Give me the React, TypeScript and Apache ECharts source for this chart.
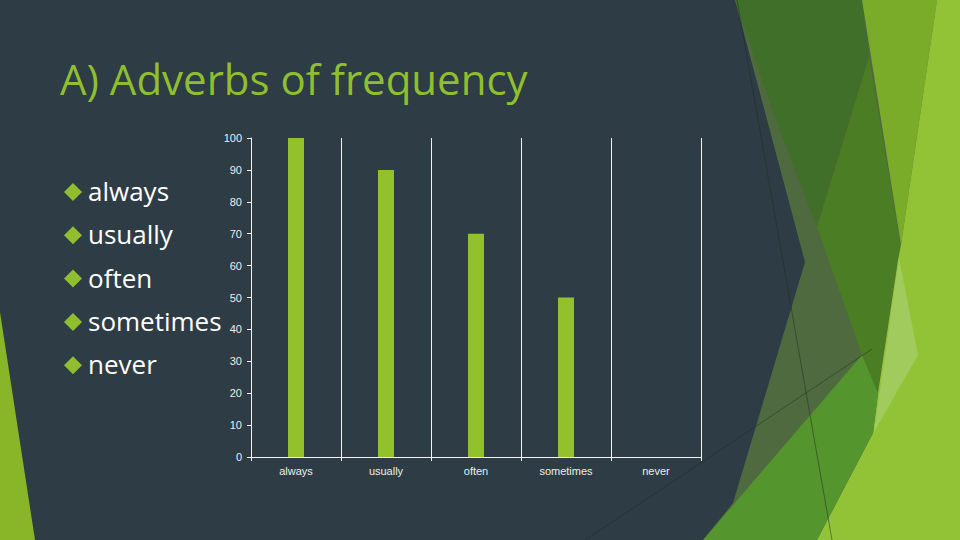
import React, { useEffect, useRef } from "react";
import * as echarts from "echarts";

const titleText = "A) Adverbs of frequency";
const categories = ["always", "usually", "often", "sometimes", "never"];
const values = [100, 90, 70, 50, 0];
const yMin = 0;
const yMax = 100;
const yInterval = 10;

const BG = "#2d3c45";
const BAR = "#93c12b";
const AXIS = "#f2f2f2";
const AXIS_FONT = "'Liberation Sans', Arial, sans-serif";
const TEXT_FONT = "'Open Sans', 'DejaVu Sans', sans-serif";

function poly(points: number[][], fill: string, z = -5) {
  return { type: "polygon", z, silent: true, shape: { points }, style: { fill } };
}

function buildOption() {
  const deco: any[] = [
    // left strip
    poly([[0, 312], [35, 540], [0, 540]], "#88b628"),
    // right decoration base (grey-olive)
    poly([[735, 0], [805, 262], [733, 503], [703, 540], [960, 540], [960, 0]], "#4f6a3e"),
    // dark green
    poly([[735, 0], [862, 0], [869, 57], [817, 227], [777, 123]], "#3f6f28"),
    // mid green
    poly([[869, 57], [901, 248], [898, 260], [878, 393], [862, 355], [817, 227]], "#4a7d24"),
    // olive
    poly([[862, 0], [937, 0], [901, 245]], "#7aab29"),
    // lime
    poly([[937, 0], [960, 0], [960, 540], [817, 540], [873, 433], [878, 393], [898, 260], [901, 245]], "#92c336"),
    // light sliver
    poly([[899, 258], [918, 355], [874, 432]], "#a2cb5e"),
    // medium green bottom
    poly([[862, 355], [878, 393], [873, 433], [817, 540], [703, 540]], "#54952d"),
    // thin lines
    { type: "line", z: -4, silent: true, shape: { x1: 737, y1: 0, x2: 832, y2: 540 }, style: { stroke: "#1f2d26", lineWidth: 1, opacity: 0.5 } },
    { type: "line", z: -4, silent: true, shape: { x1: 585, y1: 540, x2: 872, y2: 349 }, style: { stroke: "#1f2d26", lineWidth: 1, opacity: 0.5 } },
  ];

  const title = {
    type: "text",
    z: 5,
    style: {
      x: 60,
      y: 78,
      text: titleText,
      fill: "#8fbf2e",
      font: `42px ${TEXT_FONT}`,
      textAlign: "left",
      textVerticalAlign: "middle",
    },
  };

  const bullets: any[] = [];
  categories.forEach((c, i) => {
    const cy = 192 + i * 43.3;
    bullets.push({
      type: "polygon",
      z: 5,
      shape: { points: [[73, cy - 9], [82, cy], [73, cy + 9], [64, cy]] },
      style: { fill: "#8fbf2e" },
    });
    bullets.push({
      type: "text",
      z: 5,
      style: {
        x: 88,
        y: cy - 1,
        text: c,
        fill: "#ffffff",
        font: `26px ${TEXT_FONT}`,
        textAlign: "left",
        textVerticalAlign: "middle",
      },
    });
  });

  return {
    animation: false,
    backgroundColor: BG,
    grid: { left: 251, top: 138, width: 450, height: 319, containLabel: false },
    xAxis: {
      type: "category",
      data: categories,
      boundaryGap: true,
      axisLine: { show: true, lineStyle: { color: AXIS, width: 1 } },
      axisTick: { show: true, alignWithLabel: false, length: 4, lineStyle: { color: AXIS } },
      splitLine: { show: true, lineStyle: { color: AXIS, width: 1 } },
      axisLabel: { color: "#eeeeee", fontSize: 11, fontFamily: AXIS_FONT, margin: 8 },
    },
    yAxis: {
      type: "value",
      min: yMin,
      max: yMax,
      interval: yInterval,
      axisLine: { show: true, lineStyle: { color: AXIS, width: 1 } },
      axisTick: { show: true, length: 4, lineStyle: { color: AXIS } },
      splitLine: { show: false },
      axisLabel: { color: "#eeeeee", fontSize: 11, fontFamily: AXIS_FONT, margin: 9 },
    },
    series: [
      {
        type: "bar",
        data: values,
        barWidth: 16,
        itemStyle: { color: BAR },
        z: 3,
      },
    ],
    graphic: { elements: [...deco, title, ...bullets] },
  };
}

export default function App() {
  const ref = useRef<HTMLDivElement>(null);
  useEffect(() => {
    if (!ref.current) return;
    const chart = echarts.init(ref.current, undefined, { renderer: "svg" });
    chart.setOption(buildOption() as any);
    return () => chart.dispose();
  }, []);
  return (
    <div
      ref={ref}
      style={{ position: "fixed", left: 0, top: 0, width: 960, height: 540 }}
    />
  );
}
